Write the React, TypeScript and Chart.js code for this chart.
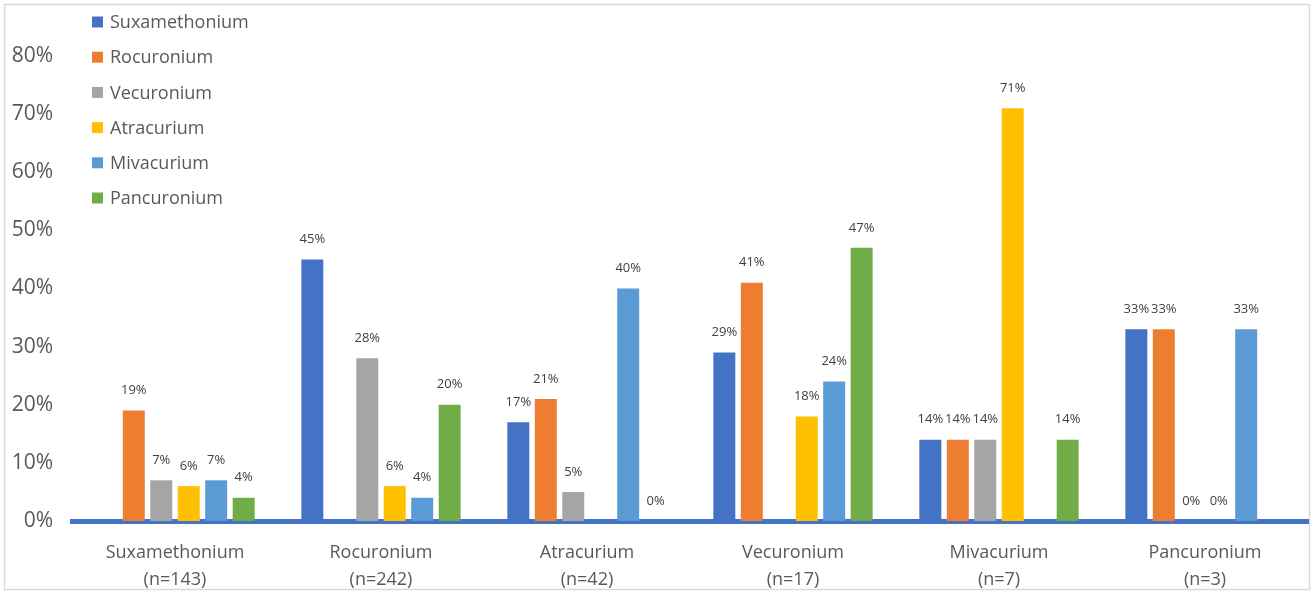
import React, { useEffect, useRef } from "react";
import { Chart, registerables } from "chart.js";

Chart.register(...registerables);

const categories: string[][] = [
  ["Suxamethonium", "(n=143)"],
  ["Rocuronium", "(n=242)"],
  ["Atracurium", "(n=42)"],
  ["Vecuronium", "(n=17)"],
  ["Mivacurium", "(n=7)"],
  ["Pancuronium", "(n=3)"],
];

const seriesNames = ["Suxamethonium", "Rocuronium", "Vecuronium", "Atracurium", "Mivacurium", "Pancuronium"];
const seriesColors = ["#4472C4", "#ED7D31", "#A5A5A5", "#FFC000", "#5B9BD5", "#70AD47"];

const suxamethonium = [null, 45, 17, 29, 14, 33];
const rocuronium = [19, null, 21, 41, 14, 33];
const vecuronium = [7, 28, 5, null, 14, 0];
const atracurium = [6, 6, null, 18, 71, 0];
const mivacurium = [7, 4, 40, 24, null, 33];
const pancuronium = [4, 20, 0, 47, 14, null];

const seriesValues = [suxamethonium, rocuronium, vecuronium, atracurium, mivacurium, pancuronium];

const yTicks = [0, 10, 20, 30, 40, 50, 60, 70, 80];

const FONT = "'Open Sans', sans-serif";

const framePlugin = {
  id: "frame",
  beforeDraw(chart: any) {
    const ctx = chart.ctx;
    ctx.save();
    ctx.fillStyle = "#ffffff";
    ctx.fillRect(0, 0, chart.width, chart.height);
    ctx.strokeStyle = "#D9D9D9";
    ctx.lineWidth = 1.5;
    ctx.strokeRect(4.5, 4.5, chart.width - 9, chart.height - 9);
    ctx.restore();
  },
};

const labelPlugin = {
  id: "valueLabels",
  afterDatasetsDraw(chart: any) {
    const ctx = chart.ctx;
    ctx.save();
    ctx.font = `13px ${FONT}`;
    ctx.fillStyle = "#404040";
    ctx.textAlign = "center";
    ctx.textBaseline = "middle";
    chart.data.datasets.forEach((ds: any, i: number) => {
      const meta = chart.getDatasetMeta(i);
      meta.data.forEach((el: any, j: number) => {
        const v = ds.data[j];
        if (v === null || v === undefined) return;
        ctx.fillText(`${v}%`, el.x, el.y - 20);
      });
    });
    ctx.restore();
  },
};

const legendPlugin = {
  id: "customLegend",
  afterDraw(chart: any) {
    const ctx = chart.ctx;
    ctx.save();
    ctx.font = `18px ${FONT}`;
    ctx.textBaseline = "middle";
    ctx.textAlign = "left";
    chart.data.datasets.forEach((ds: any, i: number) => {
      const y = 22 + i * 35.2;
      ctx.fillStyle = ds.backgroundColor;
      ctx.fillRect(92, y - 5.5, 11, 11);
      ctx.fillStyle = "#595959";
      ctx.fillText(ds.label, 110, y + 1);
    });
    ctx.restore();
  },
};

export default function App() {
  const ref = useRef<HTMLCanvasElement | null>(null);

  useEffect(() => {
    if (!ref.current) return;
    const chart = new Chart(ref.current, {
      type: "bar",
      data: {
        labels: categories,
        datasets: seriesNames.map((name, i) => ({
          label: name,
          data: seriesValues[i],
          backgroundColor: seriesColors[i],
          borderWidth: 0,
          categoryPercentage: 0.8,
          barPercentage: 0.8,
        })),
      },
      options: {
        animation: false,
        responsive: false,
        maintainAspectRatio: false,
        layout: { padding: { top: 56, right: 6, bottom: 0, left: 0 } },
        plugins: {
          legend: { display: false },
          tooltip: { enabled: false },
        },
        scales: {
          x: {
            grid: { display: false, drawTicks: false },
            border: { display: true, color: "#4472C4", width: 5 },
            ticks: {
              font: { family: FONT, size: 18, lineHeight: 1.5 },
              color: "#595959",
              padding: 18,
              maxRotation: 0,
              autoSkip: false,
            },
            afterFit(scale: any) {
              scale.height = 73;
            },
          },
          y: {
            min: 0,
            max: 80,
            afterBuildTicks(scale: any) {
              scale.ticks = yTicks.map((v) => ({ value: v }));
            },
            grid: { display: false, drawTicks: false },
            border: { display: false },
            ticks: {
              font: { family: FONT, size: 21 },
              color: "#595959",
              padding: 19,
              callback: (v: any) => `${v}%`,
            },
            afterFit(scale: any) {
              scale.width = 72;
            },
          },
        },
      },
      plugins: [framePlugin, labelPlugin, legendPlugin],
    });
    return () => chart.destroy();
  }, []);

  return (
    <div style={{ position: "fixed", left: 0, top: 0, width: 1314, height: 594 }}>
      <canvas ref={ref} width={1314} height={594} style={{ width: 1314, height: 594 }} />
    </div>
  );
}
